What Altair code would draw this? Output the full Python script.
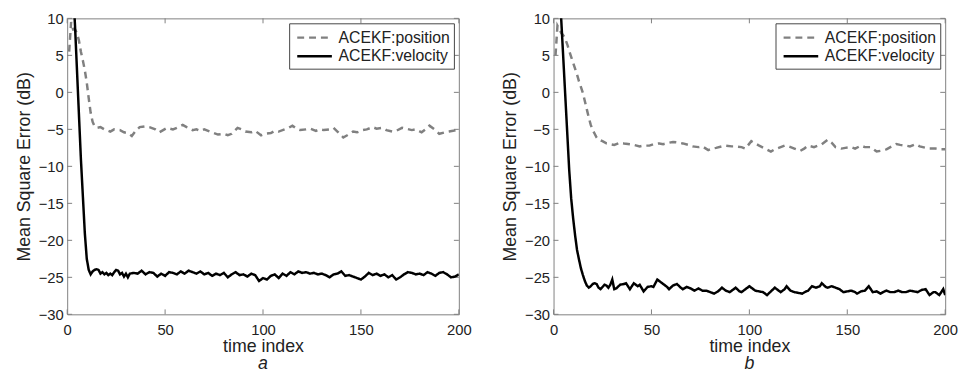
import altair as alt
import pandas as pd

# ---------------- data ----------------
SERIES = ["ACEKF:position", "ACEKF:velocity"]
X_TICKS = [0, 50, 100, 150, 200]
Y_TICKS = [-30, -25, -20, -15, -10, -5, 0, 5, 10]

# panel a
a_pos_t = [1, 2, 3, 4, 5, 6, 7, 8, 9, 10, 11, 12, 13, 14, 15, 17, 19, 22, 24, 27, 29, 31, 33, 35, 37, 40, 42, 45, 47, 49,
           51, 54, 56, 59, 61, 64, 66, 68, 70, 73, 75, 77, 80, 82, 84, 87, 89, 91, 94, 96, 99, 101, 104, 106, 108, 111,
           113, 115, 117, 119, 122, 124, 127, 129, 131, 134, 136, 138, 141, 143, 146, 148, 151, 153, 156, 158, 161, 163,
           166, 168, 171, 173, 176, 178, 181, 183, 185, 188, 190, 193, 195, 197, 200]
a_pos_y = [5.5, 9.5, 8.5, 8.5, 8.0, 7.0, 5.5, 4.3, 3.0, 1.3, -0.8, -2.8, -4.0, -4.6, -4.8, -4.7, -5.0, -5.3, -5.0, -5.1,
           -5.4, -5.5, -5.9, -5.2, -4.7, -4.6, -4.7, -5.0, -5.4, -5.1, -4.8, -5.0, -4.8, -4.4, -4.7, -5.1, -5.0, -5.2,
           -5.0, -5.3, -5.5, -5.7, -5.6, -5.8, -5.6, -4.8, -5.0, -5.3, -5.4, -5.2, -5.8, -5.6, -5.5, -5.2, -5.3, -5.0,
           -4.8, -4.5, -4.9, -5.1, -5.0, -4.9, -5.2, -5.0, -5.1, -5.0, -4.8, -5.3, -6.1, -5.8, -5.3, -5.4, -5.1, -5.0,
           -4.7, -4.9, -4.8, -5.1, -5.3, -5.2, -4.8, -4.9, -5.1, -5.0, -5.4, -5.0, -4.5, -5.1, -5.6, -5.4, -5.3, -5.2,
           -5.0]
a_vel_t = [3, 4, 5, 6, 7, 8, 9, 10, 11, 12, 13, 14, 15, 16, 17, 18, 19, 20, 21, 22, 23, 24, 25, 26, 27, 28, 29, 30, 31,
           32, 34, 36, 38, 40, 42, 44, 46, 48, 50, 52, 54, 56, 58, 60, 62, 64, 66, 68, 70, 72, 74, 76, 78, 80, 82, 84,
           86, 88, 90, 92, 94, 96, 98, 100, 102, 104, 106, 108, 110, 112, 114, 116, 118, 120, 122, 124, 126, 128, 130,
           132, 134, 136, 138, 140, 142, 144, 146, 148, 150, 152, 154, 156, 158, 160, 162, 164, 166, 168, 170, 172, 174,
           176, 178, 180, 182, 184, 186, 188, 190, 192, 194, 196, 198, 200]
a_vel_y = [14.0, 9.0, 3.0, -3.0, -9.0, -14.0, -19.0, -22.5, -24.0, -24.6, -24.2, -24.0, -23.9, -24.0, -24.5, -24.3,
           -24.6, -24.4, -24.7, -24.5, -24.7, -24.3, -24.0, -24.1, -24.6, -24.4, -24.9, -24.5, -25.0, -24.5, -24.4,
           -24.5, -24.1, -24.6, -24.3, -24.4, -24.9, -24.5, -24.8, -24.3, -24.4, -24.6, -24.2, -24.5, -24.1, -24.3,
           -24.5, -24.2, -24.6, -24.4, -24.8, -24.5, -24.7, -24.4, -25.0, -24.6, -24.3, -24.7, -24.6, -24.9, -24.5,
           -24.7, -25.5, -25.1, -25.3, -24.8, -24.6, -25.1, -24.5, -24.8, -24.3, -24.6, -24.2, -24.4, -24.3, -24.5,
           -24.4, -24.6, -24.5, -24.7, -25.0, -24.6, -24.5, -24.2, -24.8, -24.7, -24.9, -25.1, -25.3, -24.9, -24.4,
           -24.7, -24.5, -24.8, -24.6, -25.0, -24.7, -25.3, -25.0, -24.6, -24.3, -24.4, -24.6, -24.5, -24.7, -24.3,
           -24.5, -24.8, -24.4, -24.3, -24.6, -25.0, -24.9, -24.6]

# panel b
b_pos_t = [1, 2, 3, 4, 5, 6, 7, 8, 9, 10, 11, 12, 13, 14, 15, 16, 17, 18, 19, 20, 21, 22, 23, 25, 27, 29, 31, 34, 36,
           39, 41, 44, 46, 49, 51, 54, 56, 59, 61, 64, 66, 69, 71, 74, 76, 79, 81, 83, 86, 88, 91, 93, 96, 98, 101, 103,
           105, 108, 111, 113, 115, 118, 120, 123, 126, 128, 130, 133, 135, 137, 140, 142, 144, 147, 149, 152, 154, 157,
           159, 162, 165, 167, 170, 172, 175, 177, 180, 182, 185, 187, 190, 192, 195, 197, 200]
b_pos_y = [5.0, 9.0, 8.5, 8.0, 7.7, 7.2, 6.5, 5.6, 4.8, 4.0, 3.2, 2.4, 1.5, 0.7, -0.1, -1.2, -2.3, -3.4, -4.4, -5.1,
           -5.6, -6.1, -6.4, -6.6, -6.9, -7.0, -7.1, -6.8, -6.9, -7.0, -7.1, -7.3, -7.2, -7.2, -7.0, -6.9, -7.0, -6.8,
           -6.7, -6.8, -6.9, -7.1, -7.3, -7.4, -7.3, -7.8, -7.6, -7.5, -7.3, -7.2, -7.3, -7.3, -7.4, -7.6, -6.6, -6.9,
           -7.2, -7.6, -8.0, -7.7, -7.5, -7.2, -7.3, -7.6, -7.9, -7.6, -7.2, -7.4, -7.2, -7.0, -6.4, -6.8, -7.4, -7.6,
           -7.5, -7.4, -7.6, -7.2, -7.4, -7.4, -8.0, -7.9, -7.7, -7.4, -7.0, -7.1, -7.2, -7.3, -7.0, -7.3, -7.5, -7.6,
           -7.6, -7.7, -7.7]
b_vel_t = [3, 4, 5, 6, 7, 8, 9, 10, 11, 12, 13, 14, 15, 16, 17, 18, 19, 20, 21, 22, 23, 24, 25, 26, 27, 28, 29, 30, 31,
           32, 34, 36, 37, 39, 41, 42, 43, 44, 46, 48, 50, 51, 53, 55, 56, 58, 59, 61, 63, 65, 66, 68, 70, 72, 74, 76,
           78, 80, 82, 84, 86, 88, 90, 92, 93, 95, 96, 98, 100, 102, 103, 105, 107, 109, 111, 113, 115, 116, 118, 119,
           121, 123, 125, 127, 129, 130, 132, 134, 136, 137, 139, 140, 142, 144, 146, 148, 150, 152, 154, 155, 157, 159,
           161, 163, 165, 167, 169, 170, 172, 174, 176, 178, 180, 182, 184, 186, 188, 190, 192, 194, 195, 197, 199, 200]
b_vel_y = [14.0, 9.5, 4.5, -0.5, -5.5, -10.5, -14.3, -17.0, -19.3, -21.3, -22.6, -23.8, -24.7, -25.5, -26.1, -26.4,
           -26.2, -25.9, -25.8, -25.9, -26.4, -26.6, -26.3, -26.0, -26.1, -26.4, -26.0, -25.3, -26.6, -26.5, -26.0,
           -25.9, -25.8, -26.6, -25.8, -26.0, -26.2, -26.0, -26.9, -26.3, -26.2, -26.3, -25.3, -25.7, -25.9, -26.3,
           -26.6, -26.1, -25.9, -26.4, -26.6, -26.3, -26.5, -26.8, -26.5, -26.8, -26.8, -27.0, -27.2, -26.9, -26.4,
           -26.8, -27.0, -26.6, -26.4, -26.9, -27.0, -26.6, -26.2, -26.6, -26.8, -26.9, -27.0, -27.4, -26.9, -26.4,
           -26.8, -27.0, -26.6, -26.2, -26.8, -27.0, -27.1, -27.2, -26.9, -26.8, -26.2, -26.4, -26.2, -25.8, -26.3,
           -26.4, -26.2, -26.4, -26.6, -27.0, -26.9, -26.8, -27.0, -27.2, -26.9, -26.8, -26.2, -27.0, -26.9, -27.2,
           -26.9, -26.8, -27.0, -27.0, -26.8, -27.0, -27.0, -26.8, -26.9, -27.0, -26.7, -26.6, -27.4, -27.0, -27.0,
           -27.4, -26.6, -27.4]

# ---------------- styling ----------------
FONT = "Liberation Sans"
GREY = "#808080"
TEXT = "#222222"
W, H = 397, 300
TICK = 5


def panel(pos_t, pos_y, vel_t, vel_y, caption):
    df = pd.DataFrame({
        "t": pos_t + vel_t,
        "mse": pos_y + vel_y,
        "series": [SERIES[0]] * len(pos_t) + [SERIES[1]] * len(vel_t),
    })
    xsc = alt.Scale(domain=[0, 200], nice=False, zero=False)
    ysc = alt.Scale(domain=[-30, 10], nice=False, zero=False)
    xax = alt.Axis(values=X_TICKS, title="time index", ticks=False, tickSize=0, domain=False, grid=False,
                   labelPadding=8, titlePadding=1, labelFlush=False, labelBaseline="top")
    yax = alt.Axis(values=Y_TICKS, title="Mean Square Error (dB)", ticks=False, tickSize=0, domain=False,
                   grid=False, labelPadding=4, titlePadding=5, labelFlush=False)
    X = alt.X("t:Q", scale=xsc, axis=xax)
    Y = alt.Y("mse:Q", scale=ysc, axis=yax)
    lines = alt.Chart(df).mark_line(clip=True, strokeWidth=2.5).encode(
        x=X, y=Y,
        color=alt.Color("series:N", scale=alt.Scale(domain=SERIES, range=[GREY, "#000000"]), title=None,
                        legend=alt.Legend(orient="top-right")),
        strokeDash=alt.StrokeDash("series:N", scale=alt.Scale(domain=SERIES, range=[[7, 5], [1, 0]]), title=None,
                                  legend=alt.Legend(orient="top-right")),
    )
    xt = pd.DataFrame({"t": X_TICKS})
    yt = pd.DataFrame({"mse": Y_TICKS})
    xb = alt.Chart(xt).mark_rule(color=GREY, strokeWidth=1).encode(x=X, y=alt.value(H), y2=alt.value(H - TICK))
    xtop = alt.Chart(xt).mark_rule(color=GREY, strokeWidth=1).encode(x=X, y=alt.value(0), y2=alt.value(TICK))
    yl = alt.Chart(yt).mark_rule(color=GREY, strokeWidth=1).encode(y=Y, x=alt.value(0), x2=alt.value(TICK))
    yr = alt.Chart(yt).mark_rule(color=GREY, strokeWidth=1).encode(y=Y, x=alt.value(W), x2=alt.value(W - TICK))
    return alt.layer(xb, xtop, yl, yr, lines).properties(
        width=W, height=H,
        title=alt.TitleParams(caption, orient="bottom", fontStyle="italic", fontSize=18, fontWeight="normal",
                              font=FONT, color=TEXT, offset=-1),
    )


chart = alt.hconcat(
    panel(a_pos_t, a_pos_y, a_vel_t, a_vel_y, "a"),
    panel(b_pos_t, b_pos_y, b_vel_t, b_vel_y, "b"),
    spacing=29,
).resolve_legend(
    color="independent", strokeDash="independent",
).resolve_scale(
    color="independent", strokeDash="independent",
).properties(
    padding={"left": 7, "top": 0, "right": 0, "bottom": 0},
).configure_view(
    stroke=GREY, strokeWidth=1,
).configure_axis(
    labelFont=FONT, titleFont=FONT, labelFontSize=15, titleFontSize=18, titleFontWeight="normal",
    labelColor=TEXT, titleColor=TEXT,
).configure_legend(
    labelFont=FONT, labelFontSize=16, labelColor=TEXT, symbolType="M-0.7,0H3.2", symbolSize=324,
    symbolStrokeWidth=2.5, strokeColor="#444444", fillColor="white", padding=4, offset=5,
    rowPadding=0, labelOffset=25, cornerRadius=0,
)

chart.save("out.html", embed_options={"renderer": "svg", "actions": False})
